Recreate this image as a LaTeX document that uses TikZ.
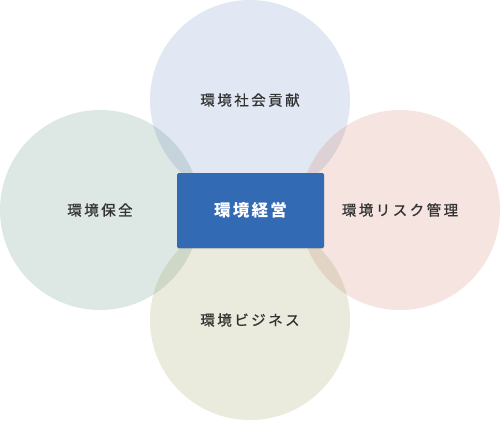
\documentclass[tikz,border=0pt]{standalone}
\usepackage{fontspec}
\setmainfont{Noto Sans CJK JP}
\usetikzlibrary{shadows}
\definecolor{socialblue}{RGB}{105,140,195}
\definecolor{conservgreen}{RGB}{85,135,120}
\definecolor{riskred}{RGB}{210,120,100}
\definecolor{businessolive}{RGB}{150,150,85}
\definecolor{corebox}{RGB}{51,106,180}
\definecolor{labelgray}{RGB}{51,51,51}
\begin{document}
\begin{tikzpicture}[x=1bp,y=1bp,
    bubble/.style={circle, minimum size=200bp, inner sep=0pt, fill opacity=.2,
                   text opacity=1, text=labelgray,
                   font=\fontsize{14.5bp}{16bp}\selectfont\addfontfeature{LetterSpace=17,FakeBold=0.8}},
    core/.style={rectangle, fill=corebox, rounded corners=1.5bp, minimum width=147bp,
                 minimum height=75bp, text=white,
                 drop shadow={opacity=.25, shadow xshift=0bp, shadow yshift=-1bp},
                 font=\fontsize{16.5bp}{18bp}\selectfont\bfseries\addfontfeature{LetterSpace=14}}]
        \useasboundingbox (0,0) rectangle (500,420);
        \node[bubble, fill=socialblue]    (social)   at (250,320) {環境社会貢献};
        \node[bubble, fill=conservgreen]  (conserv)  at (100,210) {環境保全};
        \node[bubble, fill=riskred]       (risk)     at (400,210) {環境リスク管理};
        \node[bubble, fill=businessolive] (business) at (250,100) {環境ビジネス};
        \node[core] (mgmt) at (250.5,209.5) {環境経営};
      \end{tikzpicture}
\end{document}
